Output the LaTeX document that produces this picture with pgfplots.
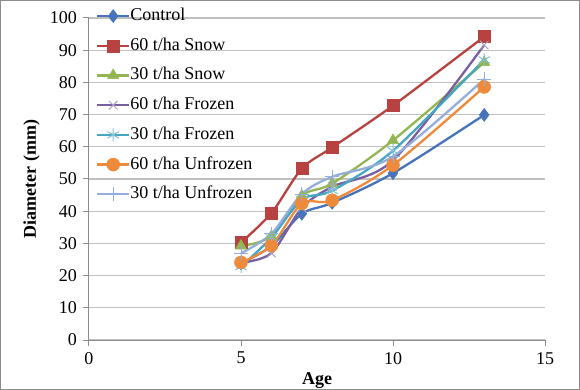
\documentclass[border=0pt]{standalone}
\usepackage{fontspec}
\setmainfont{Liberation Serif}
\usepackage{pgfplots}
\pgfplotsset{compat=1.18}
\definecolor{cBlue}{HTML}{4673B9}
\definecolor{cRed}{HTML}{B8423F}
\definecolor{cGreen}{HTML}{93B552}
\definecolor{cPurple}{HTML}{7A5E9F}
\definecolor{cCyan}{HTML}{45A6C2}
\definecolor{cOrange}{HTML}{EE8A3C}
\definecolor{cLight}{HTML}{93AEDA}
\definecolor{gridc}{HTML}{C0C0C0}
\definecolor{axc}{HTML}{8C8C8C}
\begin{document}
\fontsize{18bp}{21bp}\selectfont
\begin{tikzpicture}
\begin{axis}[
  scale only axis, width=456bp, height=322bp,
  xmin=0, xmax=15, ymin=0, ymax=100,
  xtick={0,5,10,15}, ytick={0,10,...,100},
  axis lines=left, axis line style={-, axc, line width=1bp},
  tick style={axc, line width=1bp}, tick align=outside,
  major tick length=6bp,
  ymajorgrids, grid style={gridc, line width=1.2bp},
  /pgf/number format/assume math mode=true,
  tick label style={font=\fontsize{18bp}{21bp}\selectfont},
  label style={font=\fontsize{18bp}{21bp}\selectfont\bfseries},
  xlabel={Age}, ylabel={Diameter (mm)},
  xlabel style={yshift=4bp},
  ylabel style={yshift=-2bp},
  legend cell align=left,
  legend style={draw=none, fill=none, at={(0.015,1.033)}, anchor=north west,
    font=\fontsize{18bp}{21bp}\selectfont,
    row sep=12.7bp, inner sep=0bp,
    nodes={inner sep=0bp, text height=13bp, text depth=4bp}},
  legend image code/.code={\draw[mark repeat=2,mark phase=2] plot coordinates {(0bp,0bp)(16bp,0bp)(32bp,0bp)};},
  every axis plot/.append style={line width=2.3bp, smooth, tension=0.5},
]
\addplot[cBlue, mark=diamond*, mark size=6.5bp, mark options={line width=0.5bp}]
  coordinates {(5,23.8) (6,29.2) (7,39.2) (8,42.6) (10,51.8) (13,69.9)};
\addlegendentry{Control}
\addplot[cRed, mark=square*, mark size=6bp, mark options={line width=0.5bp}]
  coordinates {(5,30.3) (6,39.4) (7,53.2) (8,59.8) (10,72.8) (13,94.2)};
\addlegendentry{60 t/ha Snow}
\addplot[cGreen, mark=triangle*, mark size=6.5bp, mark options={line width=0.5bp}]
  coordinates {(5,29.2) (6,32.2) (7,44.8) (8,48.6) (10,62.0) (13,86.2)};
\addlegendentry{30 t/ha Snow}
\addplot[cPurple, mark=x, mark size=6bp, mark options={line width=1bp, draw=cPurple!60}]
  coordinates {(5,24.0) (6,27.0) (7,41.0) (8,47.6) (10,55.8) (13,91.6)};
\addlegendentry{60 t/ha Frozen}
\addplot[cCyan, mark=asterisk, mark size=6.5bp, mark options={line width=1bp, draw=cCyan!70}]
  coordinates {(5,22.8) (6,31.8) (7,43.6) (8,46.4) (10,58.8) (13,87.0)};
\addlegendentry{30 t/ha Frozen}
\addplot[cOrange, mark=*, mark size=6.5bp, mark options={line width=0.5bp}]
  coordinates {(5,24.1) (6,29.3) (7,42.4) (8,43.4) (10,54.3) (13,78.6)};
\addlegendentry{60 t/ha Unfrozen}
\addplot[cLight, mark=+, mark size=7bp, mark options={line width=1bp}]
  coordinates {(5,26.9) (6,33.0) (7,45.3) (8,50.7) (10,57.0) (13,81.0)};
\addlegendentry{30 t/ha Unfrozen}
\end{axis}
\draw[axc, line width=1.4bp] (-88.3bp,-49.3bp) rectangle (490.3bp,339.3bp);
\pgfresetboundingbox
\useasboundingbox (-89bp,-50bp) rectangle (491bp,340bp);
\end{tikzpicture}
\end{document}
